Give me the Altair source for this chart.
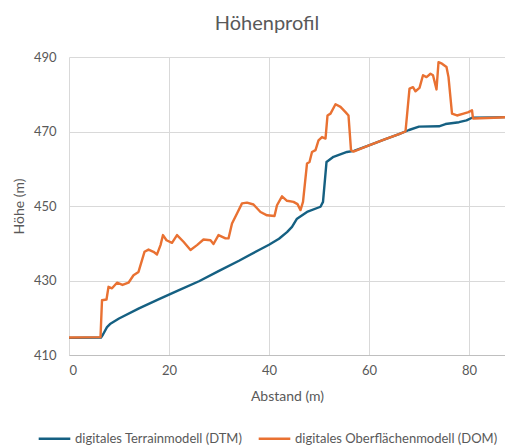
import altair as alt
import pandas as pd

# Digitales Terrainmodell (DTM)
dtm_x = [0, 6.4, 6.8, 7.6, 8.2, 10, 14, 18, 22, 26, 30, 34, 38, 40, 42, 43.6, 44.6,
         45.6, 47.6, 50.3, 50.8, 51.5, 52.9, 55.6, 57, 60, 63, 66, 68, 70, 74, 75.3,
         78, 79.5, 80.6, 85, 89]
dtm_y = [414.6, 414.7, 415.5, 417.5, 418.3, 419.8, 422.5, 425, 427.4, 429.8, 432.6,
         435.3, 438.2, 439.6, 441.2, 443, 444.4, 446.6, 448.4, 449.8, 451.1, 461.8,
         463.2, 464.5, 464.8, 466.3, 467.8, 469.3, 470.4, 471.3, 471.4, 472, 472.5,
         473, 473.7, 473.8, 473.9]

# Digitales Oberflächenmodell (DOM)
dom_x = [0, 6.3, 6.6, 7.5, 7.9, 8.6, 9.6, 10.7, 11.9, 12.9, 13.9, 15.1, 15.9, 16.9,
         17.6, 18.3, 18.8, 19.5, 20.6, 21.6, 22.9, 24.3, 25.6, 26.9, 28.3, 28.9, 29.9,
         31.3, 31.9, 32.6, 33.6, 34.6, 35.6, 36.9, 38.3, 39.6, 41.1, 41.6, 42.6, 43.6,
         44.9, 45.7, 46.3, 46.8, 47.6, 48.1, 48.6, 49.3, 49.9, 50.6, 51.3, 51.7, 52.3,
         53.3, 54.3, 55.3, 55.9, 56.4, 56.9, 60, 63, 66, 67.3, 68.1, 68.8, 69.3, 70.1,
         70.8, 71.5, 72.3, 72.8, 73.5, 73.9, 74.6, 75.5, 75.9, 76.6, 77.6, 78.9, 79.9,
         80.6, 80.8, 85, 89]
dom_y = [414.7, 414.8, 424.7, 424.9, 428.3, 427.9, 429.4, 428.8, 429.4, 431.4, 432.3,
         437.7, 438.3, 437.7, 437, 439.5, 442.2, 440.8, 440.1, 442.2, 440.4, 438.2,
         439.5, 441, 440.8, 439.8, 442.2, 441.3, 441.3, 445.3, 448, 450.7, 450.9,
         450.4, 448.4, 447.5, 447.3, 450.2, 452.6, 451.4, 451.1, 450.5, 448.9, 451.1,
         461.4, 461.8, 464.5, 465, 467.6, 468.5, 468.1, 474.3, 474.8, 477.3, 476.6,
         475.2, 474.3, 465, 464.6, 466.3, 467.8, 469.3, 470, 481.5, 481.9, 480.8,
         481.7, 485.1, 484.6, 485.5, 485.1, 481.3, 488.6, 488.2, 487.3, 484.6, 474.8,
         474.3, 474.8, 475.2, 475.7, 473.5, 473.7, 473.9]

series_names = ["digitales Terrainmodell (DTM)", "digitales Oberflächenmodell (DOM)"]
series_colors = ["#156082", "#E97132"]

df = pd.concat([
    pd.DataFrame({"Abstand": dtm_x, "Hoehe": dtm_y, "Modell": series_names[0], "ord": 0}),
    pd.DataFrame({"Abstand": dom_x, "Hoehe": dom_y, "Modell": series_names[1], "ord": 1}),
])

FONT = "Lato"
GREY = "#595959"

chart = alt.Chart(df).mark_line(strokeWidth=2.4, clip=True, strokeJoin="round").encode(
    x=alt.X("Abstand:Q", title="Abstand (m)",
            scale=alt.Scale(domain=[0, 87.2], nice=False, zero=False),
            axis=alt.Axis(values=[0, 20, 40, 60, 80], labelPadding=9, titlePadding=12)),
    y=alt.Y("Hoehe:Q", title="Höhe (m)",
            scale=alt.Scale(domain=[410, 490], nice=False, zero=False),
            axis=alt.Axis(values=[410, 430, 450, 470, 490], labelPadding=13, titlePadding=7)),
    color=alt.Color("Modell:N", scale=alt.Scale(domain=series_names, range=series_colors),
                    sort=series_names,
                    legend=alt.Legend(title=None, orient="none", direction="horizontal",
                                      legendX=-32, legendY=364, symbolType="stroke",
                                      symbolSize=1000, symbolStrokeWidth=2.4,
                                      labelFontSize=13, labelColor=GREY, labelFont=FONT,
                                      labelLimit=0, columnPadding=10, labelOffset=3)),
    order="ord:Q",
    detail="Modell:N",
).properties(
    width=436, height=298,
    title=alt.Title("Höhenprofil", fontSize=20, font=FONT, fontWeight="normal",
                    color=GREY, anchor="middle", offset=17, dx=-20),
    padding={"left": 4, "top": 6, "right": 0, "bottom": 0},
).configure_axis(
    grid=True, gridColor="#d9d9d9", gridWidth=1, domain=False, ticks=False,
    labelFont=FONT, labelFontSize=13, labelColor=GREY,
    titleFont=FONT, titleFontSize=14, titleFontWeight="normal", titleColor=GREY,
).configure_axisX(
    domain=True, domainColor="#bfbfbf",
).configure_view(stroke=None)

chart.save("out.html", embed_options={"renderer": "svg", "actions": False})
